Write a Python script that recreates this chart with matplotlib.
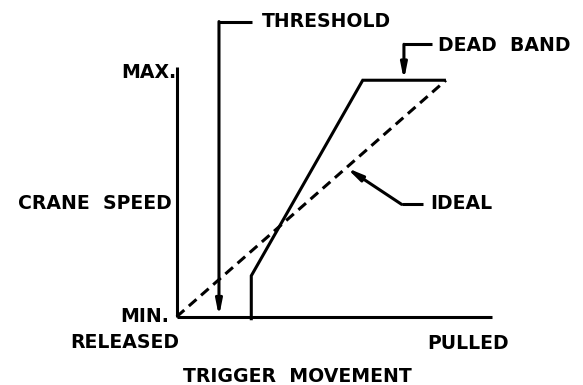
import matplotlib
matplotlib.use("Agg")
import matplotlib.pyplot as plt

# Trigger movement (0 = released) and crane speed (0 = min, 1 = max)
ideal_trigger = [0.0, 1.0]
ideal_speed = [0.0, 1.0]

actual_trigger = [0.277, 0.277, 0.691, 1.0]
actual_speed = [-0.015, 0.173, 1.0, 1.0]

threshold_trigger = 0.157
x_axis_end = 1.17
y_axis_end = 1.056

FONT = dict(family="DejaVu Sans", fontweight="bold", fontsize=13.6)
LW = 2.2

fig = plt.figure(figsize=(5.83, 3.85), dpi=100)
ax = fig.add_axes([0.3031, 0.1774, 0.5403, 0.6486])
ax.set_xlim(0, x_axis_end)
ax.set_ylim(0, y_axis_end)
ax.axis("off")

def line(xs, ys, **kw):
    ax.plot(xs, ys, color="black", lw=LW, clip_on=False,
            solid_capstyle="butt", solid_joinstyle="miter", **kw)

def arrow(tip, tail):
    ax.annotate("", xy=tip, xytext=tail, annotation_clip=False,
                arrowprops=dict(arrowstyle="-|>,head_length=0.75,head_width=0.15",
                                color="black", lw=LW, shrinkA=0, shrinkB=0,
                                mutation_scale=12))

# Axes
line([0, 0], [0, y_axis_end])
line([0, x_axis_end], [0, 0])

# Ideal and actual response
ideal, = ax.plot(ideal_trigger, ideal_speed, color="black", lw=LW,
                 clip_on=False, linestyle=(0, (3.3, 2.0)))
line(actual_trigger, actual_speed)

# Threshold leader
line([threshold_trigger, 0.2785], [1.248, 1.248])
arrow((threshold_trigger, 0.0), (threshold_trigger, 1.248))
ax.text(0.316, 1.248, "THRESHOLD", ha="left", va="center", **FONT)

# Dead band leader
line([0.844, 0.947], [1.152, 1.152])
arrow((0.844, 1.0), (0.844, 1.152))
ax.text(0.971, 1.148, "DEAD  BAND", ha="left", va="center", **FONT)

# Ideal leader
line([0.8355, 0.916], [0.475, 0.475])
arrow((0.63, 0.63), (0.8355, 0.475))
ax.text(0.943, 0.477, "IDEAL", ha="left", va="center", **FONT)

# Axis labels
ax.text(-0.003, 1.032, "MAX.", ha="right", va="center", **FONT)
ax.text(-0.017, 0.477, "CRANE  SPEED", ha="right", va="center", **FONT)
ax.text(-0.029, 0.0, "MIN.", ha="right", va="center", **FONT)
ax.text(-0.194, -0.107, "RELEASED", ha="center", va="center", **FONT)
ax.text(1.081, -0.115, "PULLED", ha="center", va="center", **FONT)
ax.text(0.449, -0.251, "TRIGGER  MOVEMENT", ha="center", va="center", **FONT)

fig.savefig("out.png", dpi=100)
